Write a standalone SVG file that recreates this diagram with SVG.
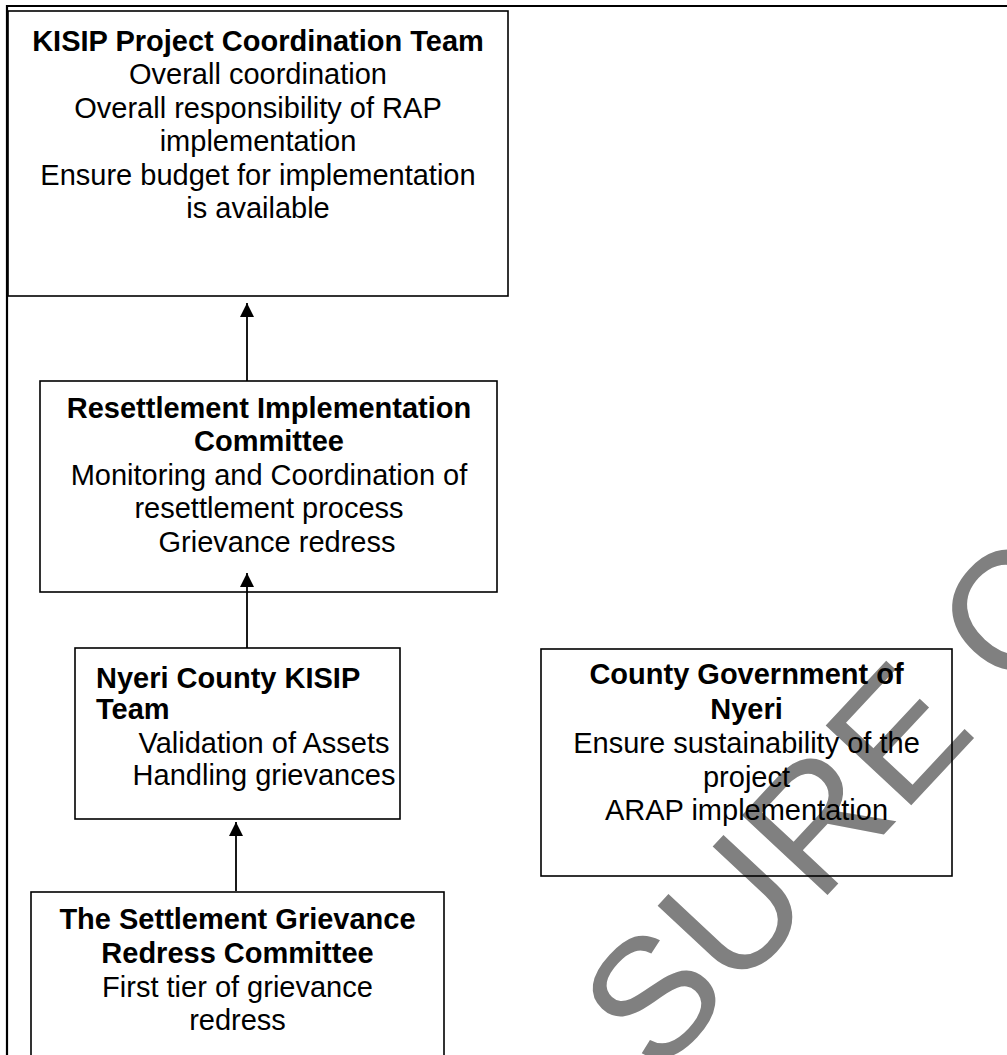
<svg xmlns="http://www.w3.org/2000/svg" width="1007" height="1055" viewBox="0 0 1007 1055">
<style>
  .box { fill: none; stroke: #000; stroke-width: 1.6; }
  .frame { fill: none; stroke: #000; stroke-width: 2.2; }
  .t { font-family: "Liberation Sans", Arial, sans-serif; font-size: 29px; fill: #000; text-anchor: middle; }
  .b { font-weight: bold; }
  .l { text-anchor: start; }
  .conn { stroke: #000; stroke-width: 1.8; fill: none; marker-end: url(#ah); }
  .wm { font-family: "Liberation Sans", Arial, sans-serif; font-size: 170px; fill: #808080; }
</style>
<defs>
  <marker id="ah" viewBox="0 0 14 15" refX="14" refY="7" markerWidth="14" markerHeight="15" markerUnits="userSpaceOnUse" orient="auto">
    <path d="M0,0 L14,7 L0,14 Z" fill="#000"/>
  </marker>
</defs>
<rect x="0" y="0" width="1007" height="1055" fill="#fff"/>
<g id="watermark">
  <text class="wm" transform="translate(657,1078) rotate(-47)">SURE C</text>
</g>
<g id="frame">
  <path class="frame" d="M7,1056 L7,6 L1008,6"/>
</g>
<g id="connectors">
  <line class="conn" x1="247" y1="381" x2="247" y2="303"/>
  <line class="conn" x1="247" y1="648" x2="247" y2="573"/>
  <line class="conn" x1="236" y1="891" x2="236" y2="822"/>
</g>
<g id="pct">
  <rect class="box" x="8" y="11" width="500" height="285"/>
  <text class="t b" x="258" y="51">KISIP Project Coordination Team</text>
  <text class="t" x="258" y="84">Overall coordination</text>
  <text class="t" x="258" y="118">Overall responsibility of RAP</text>
  <text class="t" x="258" y="151">implementation</text>
  <text class="t" x="258" y="185">Ensure budget for implementation</text>
  <text class="t" x="258" y="218">is available</text>
</g>
<g id="ric">
  <rect class="box" x="40" y="381" width="457" height="211"/>
  <text class="t b" x="269" y="418">Resettlement Implementation</text>
  <text class="t b" x="269" y="451">Committee</text>
  <text class="t" x="269" y="485">Monitoring and Coordination of</text>
  <text class="t" x="269" y="518">resettlement process</text>
  <text class="t" x="277" y="552">Grievance redress</text>
</g>
<g id="nyeri-team">
  <rect class="box" x="75" y="648" width="325" height="171"/>
  <text class="t b l" x="96" y="688">Nyeri County KISIP</text>
  <text class="t b l" x="96" y="719">Team</text>
  <text class="t" x="264" y="753">Validation of Assets</text>
  <text class="t" x="264" y="785">Handling grievances</text>
</g>
<g id="county-gov">
  <rect class="box" x="541" y="649" width="411" height="227"/>
  <text class="t b" x="746.5" y="684">County Government of</text>
  <text class="t b" x="746.5" y="719">Nyeri</text>
  <text class="t" x="746.5" y="753">Ensure sustainability of the</text>
  <text class="t" x="746.5" y="787">project</text>
  <text class="t" x="746.5" y="820">ARAP implementation</text>
</g>
<g id="sgrc">
  <rect class="box" x="31" y="892" width="413" height="200"/>
  <text class="t b" x="237.5" y="929">The Settlement Grievance</text>
  <text class="t b" x="237.5" y="963">Redress Committee</text>
  <text class="t" x="237.5" y="997">First tier of grievance</text>
  <text class="t" x="237.5" y="1030">redress</text>
</g>
</svg>
